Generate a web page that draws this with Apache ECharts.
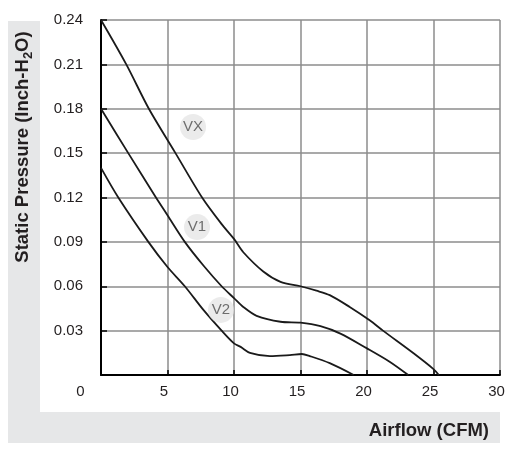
<!DOCTYPE html>
<html lang="en">
<head>
    <meta charset="UTF-8">
    <title>Airflow vs Static Pressure</title>
    <script src="https://cdn.jsdelivr.net/npm/echarts@6/dist/echarts.min.js"></script>
    <style>
        html, body { margin: 0; padding: 0; background: #fff; }
    </style>
</head>
<body>
<div id="chart" style="width: 510px; height: 458px;"></div>
<script>
    // curves: [airflow CFM, static pressure inch-H2O]
    const curveVX = [[0, 0.24], [1.9, 0.21], [3.6, 0.18], [5.6, 0.15], [7.6, 0.12], [9.07, 0.102], [10, 0.092],
        [10.7, 0.083], [12.2, 0.070], [13.5, 0.063], [15, 0.060], [16.2, 0.057], [17.2, 0.054], [18.7, 0.046],
        [20.2, 0.037], [21.2, 0.030], [23.5, 0.0147], [25, 0.004], [25.4, 0]];
    const curveV1 = [[0, 0.18], [2.05, 0.15], [4.06, 0.121], [5, 0.108], [6.3, 0.09], [7.7, 0.074], [9.07, 0.06],
        [10, 0.052], [10.7, 0.046], [11.7, 0.040], [13.5, 0.036], [15, 0.0354], [16.5, 0.033], [18, 0.028],
        [20, 0.018], [21.7, 0.009], [23.1, 0]];
    const curveV2 = [[0, 0.14], [1.3, 0.12], [3.56, 0.09], [5, 0.073], [6.3, 0.06], [7.7, 0.044], [9.07, 0.03],
        [10, 0.0214], [10.5, 0.019], [11.2, 0.015], [12.7, 0.0128], [14.2, 0.0135], [15.1, 0.0142], [15.7, 0.0128],
        [17.2, 0.008], [19, 0]];
    const curveNames = ['VX', 'V1', 'V2'];
    const curveLabels = [[6.92, 0.1677], [7.22, 0.100], [9.02, 0.044]];

    const chart = echarts.init(document.getElementById('chart'));

    const lineSeries = [curveVX, curveV1, curveV2].map((d, i) => ({
        name: curveNames[i],
        type: 'line',
        data: d,
        smooth: 0.3,
        showSymbol: false,
        lineStyle: { color: '#1a1a1a', width: 1.8 },
        z: 3
    }));

    const option = {
        animation: false,
        textStyle: { fontFamily: 'Liberation Sans, Arial, sans-serif' },
        grid: { left: 101, right: 10, top: 20, bottom: 83 },
        graphic: [
            { type: 'rect', shape: { x: 8, y: 21, width: 32, height: 422 }, style: { fill: '#e6e7e8' }, z: -10 },
            { type: 'rect', shape: { x: 8, y: 412, width: 492, height: 31 }, style: { fill: '#e6e7e8' }, z: -10 },
            {
                type: 'text', x: 23, y: 147, rotation: Math.PI / 2,
                style: {
                    text: '{a|Static Pressure (Inch-H}{s|2}{a|O)}',
                    align: 'center', verticalAlign: 'middle',
                    rich: {
                        a: { fontSize: 18.5, fontWeight: 'bold', fill: '#231f20', fontFamily: 'Liberation Sans' },
                        s: { fontSize: 13, fontWeight: 'bold', fill: '#231f20', fontFamily: 'Liberation Sans', padding: [11, 0, 0, 0] }
                    }
                }
            },
            {
                type: 'text', x: 489, y: 431,
                style: {
                    text: 'Airflow (CFM)', align: 'right', verticalAlign: 'middle',
                    fontSize: 18.5, fontWeight: 'bold', fill: '#231f20', fontFamily: 'Liberation Sans'
                }
            }
        ],
        xAxis: {
            type: 'value',
            min: 0, max: 30, interval: 5,
            axisLine: { lineStyle: { color: '#000', width: 2 } },
            axisTick: { show: true, inside: true, length: 5, lineStyle: { color: '#000', width: 1.5 } },
            splitLine: { lineStyle: { color: '#8c8c8c', width: 1.5 } },
            axisLabel: {
                margin: 9,
                formatter: v => v === 0 ? '{z|0}' : '{n|' + v + '}',
                rich: {
                    z: { fontSize: 15, color: '#231f20', padding: [0, 41, 0, 0] },
                    n: { fontSize: 15, color: '#231f20', padding: [0, 7, 0, 0] }
                }
            }
        },
        yAxis: {
            type: 'value',
            min: 0, max: 0.24, interval: 0.03,
            axisLine: { show: true, lineStyle: { color: '#000', width: 2 } },
            axisTick: { show: true, inside: true, length: 6, lineStyle: { color: '#000', width: 1.5 } },
            splitLine: { lineStyle: { color: '#8c8c8c', width: 1.5 } },
            axisLabel: {
                margin: 18, fontSize: 15, color: '#231f20',
                formatter: v => v === 0 ? '' : v.toFixed(2)
            }
        },
        series: lineSeries.concat([{
            type: 'scatter',
            data: curveLabels.map((p, i) => ({ value: p, name: curveNames[i] })),
            symbolSize: 26,
            itemStyle: { color: '#e6e6e6' },
            label: { show: true, position: 'inside', formatter: '{b}', fontSize: 15, color: '#4d4d4d' },
            z: 4
        }])
    };

    chart.setOption(option);
</script>
</body>
</html>
